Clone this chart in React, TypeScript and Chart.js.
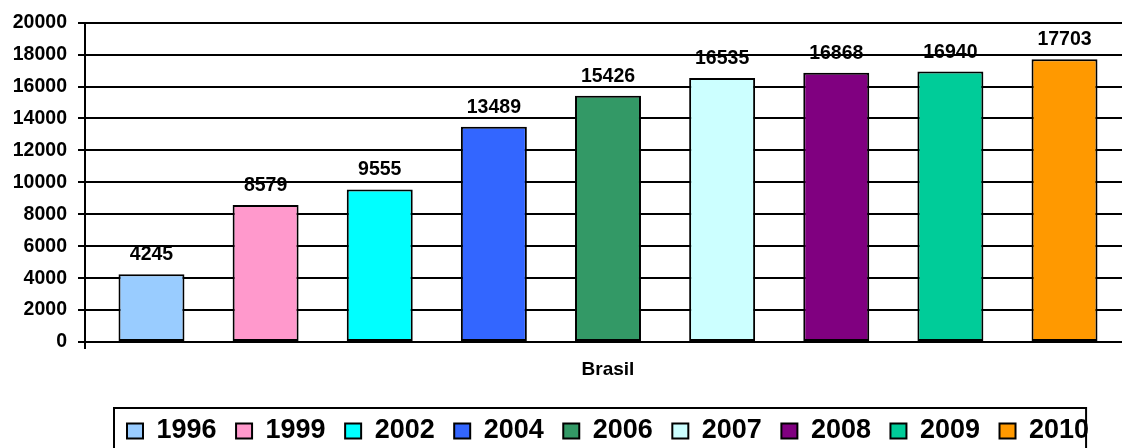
import React, { useEffect, useRef } from "react";
import { Chart, registerables } from "chart.js";

Chart.register(...registerables);

const categories = ["Brasil"];
const years = ["1996", "1999", "2002", "2004", "2006", "2007", "2008", "2009", "2010"];
const values = [4245, 8579, 9555, 13489, 15426, 16535, 16868, 16940, 17703];
const colors = ["#99CCFF", "#FF99CC", "#00FFFF", "#3366FF", "#339966", "#CCFFFF", "#800080", "#00CC99", "#FF9900"];
const yTicks = { min: 0, max: 20000, step: 2000 };

const FONT = "'Liberation Sans', Arial, sans-serif";
const CANVAS_W = 1140;
const CANVAS_H = 460;
const LEGEND_START_X = 127;
const LEGEND_TOP = 398;

const valueLabels = {
  id: "valueLabels",
  afterDatasetsDraw(chart: any) {
    const ctx = chart.ctx;
    ctx.save();
    ctx.font = `bold 19.5px ${FONT}`;
    ctx.fillStyle = "#000";
    ctx.textAlign = "center";
    ctx.textBaseline = "alphabetic";
    chart.data.datasets.forEach((ds: any, i: number) => {
      const meta = chart.getDatasetMeta(i);
      meta.data.forEach((el: any, j: number) => {
        ctx.fillText(String(ds.data[j]), el.x, el.y - 14);
      });
    });
    ctx.restore();
  },
};

const legendPlacement = {
  id: "legendPlacement",
  afterLayout(chart: any) {
    const lg = chart.legend;
    if (!lg) return;
    const pad = lg.options.labels.padding;
    const curStart = (lg.left + pad + lg.right - lg.lineWidths[0]) / 2;
    const dx = LEGEND_START_X - curStart;
    lg.left += dx;
    lg.right += dx;
    const dy = LEGEND_TOP - lg.top;
    lg.top += dy;
    lg.bottom += dy;
  },
  afterDraw(chart: any) {
    const lg = chart.legend;
    if (!lg) return;
    const pad = lg.options.labels.padding;
    const ctx = chart.ctx;
    const left = LEGEND_START_X - 13;
    const right = LEGEND_START_X + lg.lineWidths[0] - pad - 3;
    ctx.save();
    ctx.strokeStyle = "#000";
    ctx.lineWidth = 2;
    ctx.strokeRect(left, 408, right - left, 100);
    ctx.restore();
  },
};

export default function App() {
  const ref = useRef<HTMLCanvasElement | null>(null);
  useEffect(() => {
    if (!ref.current) return;
    Chart.defaults.color = "#000";
    const chart = new Chart(ref.current, {
      type: "bar",
      data: {
        labels: categories,
        datasets: years.map((y, i) => ({
          label: y,
          data: [values[i]],
          backgroundColor: colors[i],
          borderColor: "#000",
          borderWidth: 2,
          borderSkipped: false,
          barPercentage: 0.578,
          categoryPercentage: 0.982,
        })),
      },
      options: {
        responsive: false,
        animation: false,
        layout: { padding: { left: 0, right: 9, top: 20, bottom: 0 } },
        plugins: {
          tooltip: { enabled: false },
          title: { display: false },
          legend: {
            display: true,
            position: "bottom",
            labels: {
              boxWidth: 16,
              boxHeight: 15,
              padding: 19.5,
              color: "#000",
              font: { family: FONT, size: 27, weight: "bold" },
            },
          },
        },
        scales: {
          x: {
            type: "category",
            grid: {
              display: true,
              drawOnChartArea: false,
              offset: true,
              color: "#000",
              lineWidth: 2,
              tickLength: 7,
            },
            border: { display: true, color: "#000", width: 2 },
            ticks: {
              color: "#000",
              padding: 9,
              font: { family: FONT, size: 19, weight: "bold" },
            },
            afterFit(scale: any) {
              scale.height = CANVAS_H - 56.5 - 342;
            },
          },
          y: {
            min: yTicks.min,
            max: yTicks.max,
            grid: { color: "#000", lineWidth: 2, tickLength: 7 },
            border: { display: true, color: "#000", width: 2 },
            ticks: {
              stepSize: yTicks.step,
              color: "#000",
              padding: 11,
              font: { family: FONT, size: 19.5, weight: "bold" },
              callback: (v: any) => String(v),
            },
            afterFit(scale: any) {
              scale.width = 85;
            },
          },
        },
      },
      plugins: [valueLabels, legendPlacement],
    });
    return () => chart.destroy();
  }, []);
  return (
    <div style={{ position: "fixed", left: 0, top: 0, width: CANVAS_W, height: CANVAS_H }}>
      <canvas ref={ref} width={CANVAS_W} height={CANVAS_H} />
    </div>
  );
}
